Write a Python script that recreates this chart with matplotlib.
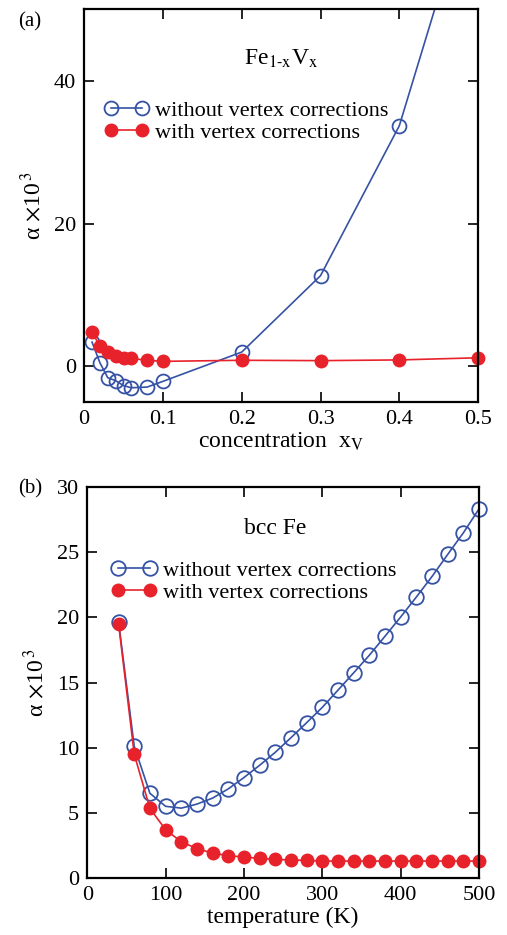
import matplotlib
matplotlib.use('Agg')
import matplotlib.pyplot as plt

# data for panel (a): Fe(1-x)V(x)
conc = [0.01, 0.02, 0.03, 0.04, 0.05, 0.06, 0.08, 0.1, 0.2, 0.3, 0.4, 0.5]
alpha_a_novc = [3.4, 0.5, -1.6, -2.0, -2.7, -3.0, -2.9, -2.1, 2.0, 12.7, 33.7, 70.0]
alpha_a_vc = [4.8, 2.8, 2.0, 1.5, 1.2, 1.1, 0.85, 0.7, 0.85, 0.8, 0.9, 1.2]

# data for panel (b): bcc Fe vs temperature
temp = [40, 60, 80, 100, 120, 140, 160, 180, 200, 220, 240, 260, 280, 300,
        320, 340, 360, 380, 400, 420, 440, 460, 480, 500]
alpha_b_novc = [19.66, 10.1, 6.5, 5.5, 5.36, 5.67, 6.13, 6.84, 7.71, 8.65,
                9.65, 10.77, 11.92, 13.1, 14.42, 15.75, 17.1, 18.56, 20.04,
                21.57, 23.15, 24.84, 26.5, 28.34]
alpha_b_vc = [19.53, 9.5, 5.34, 3.7, 2.78, 2.25, 1.91, 1.71, 1.61, 1.5, 1.43,
              1.38, 1.35, 1.3, 1.3, 1.3, 1.3, 1.3, 1.3, 1.3, 1.3, 1.3, 1.3, 1.3]

plt.rcParams['font.family'] = ['Liberation Serif', 'DejaVu Serif']
plt.rcParams['mathtext.fontset'] = 'stix'

blue = '#3552a4'
red = '#e8222b'
ylab = r'$\mathregular{\alpha}$ $\times$10$^{\,3}$'

fig = plt.figure(figsize=(5.07, 9.35), dpi=100)
ax1 = fig.add_axes([0.166, 0.570, 0.777, 0.420])
ax2 = fig.add_axes([0.172, 0.061, 0.773, 0.418])


def style_axes(ax):
    # ticks inside on every side
    ax.tick_params(direction='in', top=True, right=True, length=7, width=1.2,
                   labelsize=16, pad=6)
    for s in ax.spines.values():
        s.set_linewidth(1.6)


# panel (a)
ax1.plot(conc, alpha_a_novc, '-o', color=blue, mfc='none', mec=blue, ms=10,
         mew=1.3, lw=1.2, label='without vertex corrections', clip_on=True)
ax1.plot(conc, alpha_a_vc, '-o', color=red, mfc=red, mec=red, ms=9,
         lw=1.2, label='with vertex corrections', clip_on=False)
ax1.set_xlim(0, 0.5)
ax1.set_ylim(-5, 50)
ax1.set_xticks([0, 0.1, 0.2, 0.3, 0.4, 0.5])
ax1.set_xticklabels(['0', '0.1', '0.2', '0.3', '0.4', '0.5'])
ax1.set_yticks([0, 20, 40])
style_axes(ax1)
ax1.set_xlabel(r'concentration  x$_{\rm V}$', fontsize=17, labelpad=1)
ax1.set_ylabel(ylab, fontsize=17, labelpad=6)
ax1.text(0.5, 0.875, r'Fe$_{\rm 1\text{-}x}$V$_{\rm x}$', transform=ax1.transAxes,
         ha='center', va='center', fontsize=17)
ax1.legend(loc='upper left', bbox_to_anchor=(0.028, 0.79), frameon=False,
           fontsize=16, numpoints=2, handlelength=2.0, handletextpad=0.3,
           labelspacing=0.05, borderaxespad=0)
fig.text(0.035, 0.987, '(a)', fontsize=15, ha='left', va='top')

# panel (b)
ax2.plot(temp, alpha_b_novc, '-o', color=blue, mfc='none', mec=blue, ms=10.5,
         mew=1.3, lw=1.2, label='without vertex corrections', clip_on=False)
ax2.plot(temp, alpha_b_vc, '-o', color=red, mfc=red, mec=red, ms=9,
         lw=1.2, label='with vertex corrections', clip_on=False)
ax2.set_xlim(0, 500)
ax2.set_ylim(0, 30)
ax2.set_xticks([0, 100, 200, 300, 400, 500])
ax2.set_yticks([0, 5, 10, 15, 20, 25, 30])
style_axes(ax2)
ax2.set_xlabel('temperature (K)', fontsize=17, labelpad=1)
ax2.set_ylabel(ylab, fontsize=17, labelpad=6)
ax2.text(0.48, 0.895, 'bcc Fe', transform=ax2.transAxes,
         ha='center', va='center', fontsize=17)
ax2.legend(loc='upper left', bbox_to_anchor=(0.04, 0.835), frameon=False,
           fontsize=16, numpoints=2, handlelength=2.0, handletextpad=0.3,
           labelspacing=0.05, borderaxespad=0)
fig.text(0.035, 0.487, '(b)', fontsize=15, ha='left', va='top')

fig.savefig('out.png', dpi=100)
